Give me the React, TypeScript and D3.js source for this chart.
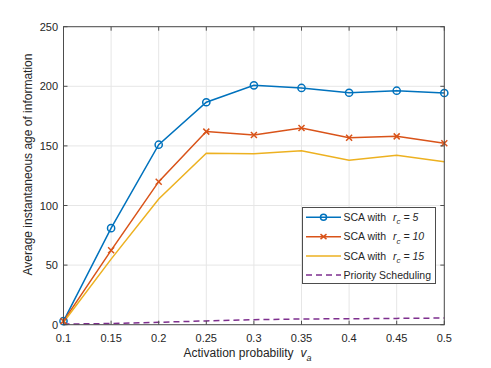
import * as d3 from "d3";

// values
const vaValues = [0.1, 0.15, 0.2, 0.25, 0.3, 0.35, 0.4, 0.45, 0.5];
const sca5 = [3, 81, 151, 186.6, 200.8, 198.6, 194.6, 196.3, 194.4];
const sca10 = [3, 62.4, 120, 162, 159.1, 165, 156.9, 158, 152.2];
const sca15 = [2, 55, 105.4, 143.8, 143.5, 146, 137.9, 142.1, 136.8];
const priority = [0.5, 1, 2, 3.2, 4.2, 4.8, 5.0, 5.3, 5.6];
const xTicks = [0.1, 0.15, 0.2, 0.25, 0.3, 0.35, 0.4, 0.45, 0.5];
const yTicks = [0, 50, 100, 150, 200, 250];

const series = [
  { name: "SCA with ", rc: "5", values: sca5, color: "#0072BD", marker: "o", dash: "" },
  { name: "SCA with ", rc: "10", values: sca10, color: "#D95319", marker: "x", dash: "" },
  { name: "SCA with ", rc: "15", values: sca15, color: "#EDB120", marker: "", dash: "" },
  { name: "Priority Scheduling", rc: "", values: priority, color: "#7E2F8E", marker: "", dash: "6,4" },
];

const font = "'Liberation Sans', Arial, sans-serif";

export default function App() {
  const W = 491;
  const H = 368;
  const left = 63.5, right = 444.3, top = 26.7, bottom = 324.7;

  const x = d3.scaleLinear().domain([0.1, 0.5]).range([left, right]);
  const y = d3.scaleLinear().domain([0, 250]).range([bottom, top]);

  const line = d3
    .line<number>()
    .x((_, i) => x(vaValues[i]))
    .y((d) => y(d));

  const axisColor = "#4d4d4d";
  const textColor = "#262626";

  // legend placement
  const lg = { x: 302.5, y: 207.5, w: 133, h: 76 };
  const rowY = [217.3, 236.7, 256, 275];

  return (
    <svg
      width={W}
      height={H}
      style={{ position: "absolute", left: 0, top: 0, background: "#fff" }}
      fontFamily={font}
    >
      {/* grid */}
      {xTicks.map((t) => (
        <line key={"gx" + t} x1={x(t)} x2={x(t)} y1={top} y2={bottom} stroke="#e6e6e6" strokeWidth={1} />
      ))}
      {yTicks.map((t) => (
        <line key={"gy" + t} x1={left} x2={right} y1={y(t)} y2={y(t)} stroke="#e6e6e6" strokeWidth={1} />
      ))}

      {/* series lines */}
      {series.map((s) => (
        <path
          key={s.name + s.rc}
          d={line(s.values) || ""}
          fill="none"
          stroke={s.color}
          strokeWidth={1.5}
          strokeDasharray={s.dash}
        />
      ))}

      {/* markers */}
      {series.map((s) =>
        s.values.map((v, i) => {
          const cx = x(vaValues[i]);
          const cy = y(v);
          if (s.marker === "o")
            return <circle key={s.rc + "m" + i} cx={cx} cy={cy} r={3.6} fill="none" stroke={s.color} strokeWidth={1.5} />;
          if (s.marker === "x")
            return (
              <path
                key={s.rc + "m" + i}
                d={`M${cx - 3},${cy - 3}L${cx + 3},${cy + 3}M${cx - 3},${cy + 3}L${cx + 3},${cy - 3}`}
                stroke={s.color}
                strokeWidth={1.5}
              />
            );
          return null;
        })
      )}

      {/* box and ticks */}
      <rect x={left} y={top} width={right - left} height={bottom - top} fill="none" stroke={axisColor} strokeWidth={1} />
      {xTicks.map((t) => (
        <g key={"tx" + t}>
          <line x1={x(t)} x2={x(t)} y1={bottom} y2={bottom - 4} stroke={axisColor} />
          <line x1={x(t)} x2={x(t)} y1={top} y2={top + 4} stroke={axisColor} />
          <text x={x(t)} y={341.5} textAnchor="middle" fontSize={11} fill={textColor}>
            {String(t)}
          </text>
        </g>
      ))}
      {yTicks.map((t) => (
        <g key={"ty" + t}>
          <line x1={left} x2={left + 4} y1={y(t)} y2={y(t)} stroke={axisColor} />
          <line x1={right} x2={right - 4} y1={y(t)} y2={y(t)} stroke={axisColor} />
          <text x={58} y={y(t) + 4} textAnchor="end" fontSize={11} fill={textColor}>
            {t}
          </text>
        </g>
      ))}

      {/* axis labels */}
      <text x={183.5} y={356.5} fontSize={12} fill={textColor}>
        Activation probability
        <tspan dx={7} fontStyle="italic">v</tspan>
        <tspan fontStyle="italic" fontSize={9} dy={4}>a</tspan>
      </text>
      <text
        transform={`translate(31.5,164.5) rotate(-90)`}
        textAnchor="middle"
        fontSize={12}
        fill={textColor}
      >
        Average instantaneous age of information
      </text>

      {/* legend */}
      <rect x={lg.x} y={lg.y} width={lg.w} height={lg.h} fill="#fff" stroke={axisColor} strokeWidth={1} />
      {series.map((s, i) => (
        <g key={"lg" + i}>
          <line x1={306} x2={341} y1={rowY[i]} y2={rowY[i]} stroke={s.color} strokeWidth={1.5} strokeDasharray={s.dash} />
          {s.marker === "o" && <circle cx={323.5} cy={rowY[i]} r={3} fill="none" stroke={s.color} strokeWidth={1.5} />}
          {s.marker === "x" && (
            <path
              d={`M${320.5},${rowY[i] - 2.5}L${326.5},${rowY[i] + 2.5}M${320.5},${rowY[i] + 2.5}L${326.5},${rowY[i] - 2.5}`}
              stroke={s.color}
              strokeWidth={1.5}
            />
          )}
          <text x={343.5} y={rowY[i] + 3.5} fontSize={10.5} fill={textColor}>
            {s.name}
            {s.rc && (
              <>
                <tspan dx={4} fontStyle="italic">r</tspan>
                <tspan fontStyle="italic" fontSize={8} dy={3.5}>c</tspan>
                <tspan fontStyle="italic" dy={-3.5}>{" = " + s.rc}</tspan>
              </>
            )}
          </text>
        </g>
      ))}
    </svg>
  );
}
